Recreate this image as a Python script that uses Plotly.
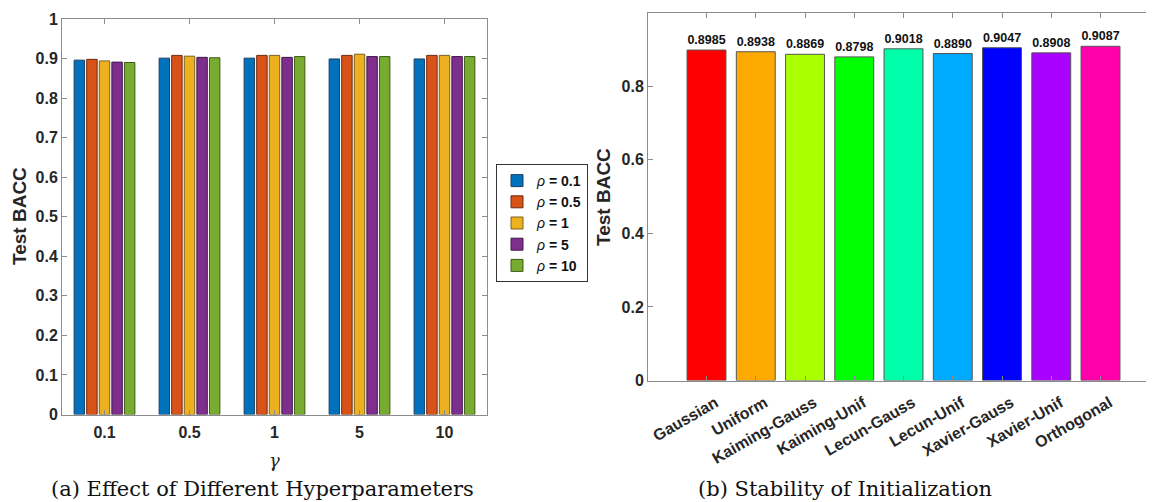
import plotly.graph_objects as go

# ---------------- data ----------------
gamma_labels = ["0.1", "0.5", "1", "5", "10"]
rho_names = ["0.1", "0.5", "1", "5", "10"]
rho_colors = ["#0072BD", "#D95319", "#EDB120", "#7E2F8E", "#77AC30"]
rho_edges = ["#1f3f5f", "#6a2a10", "#7a6020", "#40184a", "#3d5a18"]
bacc_rho_01 = [0.896, 0.901, 0.901, 0.899, 0.899]
bacc_rho_05 = [0.898, 0.908, 0.908, 0.908, 0.908]
bacc_rho_1 = [0.894, 0.906, 0.908, 0.911, 0.908]
bacc_rho_5 = [0.891, 0.903, 0.903, 0.905, 0.905]
bacc_rho_10 = [0.890, 0.902, 0.905, 0.905, 0.905]
left_series = [bacc_rho_01, bacc_rho_05, bacc_rho_1, bacc_rho_5, bacc_rho_10]

init_names = ["Gaussian", "Uniform", "Kaiming-Gauss", "Kaiming-Unif", "Lecun-Gauss",
              "Lecun-Unif", "Xavier-Gauss", "Xavier-Unif", "Orthogonal"]
init_bacc = [0.8985, 0.8938, 0.8869, 0.8798, 0.9018, 0.8890, 0.9047, 0.8908, 0.9087]
init_colors = ["#FF0000", "#FFAA00", "#AAFF00", "#00FF00", "#00FFAA",
               "#00AAFF", "#0000FF", "#AA00FF", "#FF00AA"]

# page body has an 8px margin, so work in screen pixels minus 8
OFF = 8
W, H = 1154 - OFF, 502 - OFF
def px(x):
    return (x - OFF) / W
def py(y):
    return 1 - (y - OFF) / H

fig = go.Figure()

xs_left = list(range(len(gamma_labels)))
for name, vals, c, ec in zip(rho_names, left_series, rho_colors, rho_edges):
    fig.add_trace(go.Bar(
        x=xs_left, y=vals, name=f"<i>ρ</i> <b>= {name}</b>",
        marker=dict(color=c, line=dict(color=ec, width=1)),
        xaxis="x", yaxis="y", hoverinfo="skip",
    ))

xs_right = list(range(len(init_names)))
fig.add_trace(go.Bar(
    x=xs_right, y=init_bacc, width=0.79, showlegend=False,
    marker=dict(color=init_colors, line=dict(color="#555555", width=1)),
    text=[f"{v:.4f}" for v in init_bacc], textposition="outside",
    textfont=dict(family="Liberation Sans", size=12.5, color="#111111"),
    texttemplate="<b>%{text}</b>", cliponaxis=False,
    xaxis="x2", yaxis="y2", hoverinfo="skip",
))

tickfont = dict(family="Liberation Sans", size=16, color="#262626")
axline = "#8c8c8c"

fig.update_layout(
    width=W, height=H,
    margin=dict(l=0, r=0, t=0, b=0),
    plot_bgcolor="white", paper_bgcolor="white",
    barmode="group", bargap=0.26, bargroupgap=0.17,
    font=dict(family="Liberation Sans", color="#262626"),
    xaxis=dict(
        domain=[px(62), px(487)], range=[-0.5, 4.5],
        tickvals=xs_left, ticktext=[f"<b>{t}</b>" for t in gamma_labels],
        tickfont=tickfont, showline=True, linecolor=axline, mirror="ticks",
        ticks="inside", ticklen=5, tickcolor=axline, showgrid=False, zeroline=False,
        automargin=False, anchor="y", ticklabelstandoff=3,
    ),
    yaxis=dict(
        domain=[py(414.5), py(19)], range=[0, 1],
        tickvals=[i / 10 for i in range(11)],
        ticktext=["<b>0</b>"] + [f"<b>{i/10:.1f}</b>" for i in range(1, 10)] + ["<b>1</b>"],
        tickfont=tickfont, showline=True, linecolor=axline, mirror="ticks",
        ticks="inside", ticklen=5, tickcolor=axline, showgrid=False, zeroline=False,
        automargin=False, anchor="x",
    ),
    xaxis2=dict(
        domain=[px(648), 1.0], range=[-1.188, 9.086],
        tickvals=xs_right, ticktext=[f"<b>{t}</b>" for t in init_names], tickangle=-30,
        tickfont=tickfont, showline=True, linecolor=axline, mirror="ticks",
        ticks="inside", ticklen=5, tickcolor=axline, showgrid=False, zeroline=False,
        automargin=False, anchor="y2", ticklabelstandoff=6, ticklabelshift=9,
    ),
    yaxis2=dict(
        domain=[py(380.5), py(12.7)], range=[0, 1],
        tickvals=[0, 0.2, 0.4, 0.6, 0.8, 1],
        ticktext=["<b>0</b>", "<b>0.2</b>", "<b>0.4</b>", "<b>0.6</b>", "<b>0.8</b>", "<b>1</b>"],
        tickfont=tickfont, showline=True, linecolor=axline, mirror=False,
        ticks="inside", ticklen=5, tickcolor=axline, showgrid=False, zeroline=False,
        automargin=False, anchor="x2",
    ),
    legend=dict(
        x=px(496), y=py(164), xanchor="left", yanchor="top",
        bordercolor="#333333", borderwidth=1, bgcolor="white",
        font=dict(family="Liberation Sans", size=14, color="#111111"),
        tracegroupgap=0, itemwidth=30,
    ),
)

def label(text, x, y, font, angle=0):
    fig.add_annotation(text=text, x=px(x), y=py(y), xref="paper", yref="paper",
                       xanchor="center", yanchor="middle", textangle=angle,
                       showarrow=False, font=font)

ann_font = dict(family="Liberation Sans", size=19, color="#262626")
label("<b>Test BACC</b>", 19, 216, ann_font, -90)
label("<b>Test BACC</b>", 603, 197, ann_font, -90)
label("<i>γ</i>", 274, 460, dict(family="DejaVu Serif", size=18, color="#262626"))
cap_font = dict(family="DejaVu Serif", size=21, color="#111111")
label("(a) Effect of Different Hyperparameters", 262, 489, cap_font)
label("(b) Stability of Initialization", 845, 489, cap_font)

fig.write_html("out.html")
